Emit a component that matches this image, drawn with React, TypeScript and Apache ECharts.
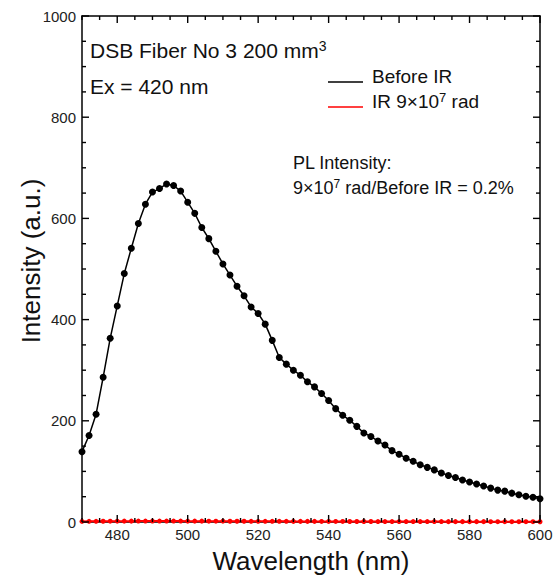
import React, { useEffect, useRef } from 'react';
import * as echarts from 'echarts';

const wavelengths = [
  470, 472, 474, 476, 478, 480, 482, 484, 486, 488, 490, 492, 494, 496, 498, 500,
  502, 504, 506, 508, 510, 512, 514, 516, 518, 520, 522, 524, 526, 528, 530, 532,
  534, 536, 538, 540, 542, 544, 546, 548, 550, 552, 554, 556, 558, 560, 562, 564,
  566, 568, 570, 572, 574, 576, 578, 580, 582, 584, 586, 588, 590, 592, 594, 596,
  598, 600,
];

const beforeIR = [
  139, 171, 213, 286, 363, 427, 491, 541, 590, 628, 652, 659, 668, 665, 654, 632,
  610, 582, 560, 535, 510, 488, 466, 447, 425, 412, 391, 359, 325, 312, 300, 290,
  277, 267, 254, 240, 224, 211, 201, 189, 176, 169, 160, 152, 141, 134, 126, 120,
  113, 108, 103, 97, 92, 88, 83, 79, 75, 71, 67, 63, 61, 57, 54, 51,
  49, 46,
];

const irDose = [
  1.2, 1.3, 1.4, 1.5, 1.6, 1.6, 1.7, 1.7, 1.8, 1.8, 1.8, 1.8, 1.8, 1.8, 1.8, 1.7,
  1.7, 1.7, 1.6, 1.6, 1.6, 1.5, 1.5, 1.5, 1.4, 1.4, 1.4, 1.3, 1.3, 1.3, 1.2, 1.2,
  1.2, 1.2, 1.1, 1.1, 1.1, 1.1, 1.0, 1.0, 1.0, 1.0, 0.9, 0.9, 0.9, 0.9, 0.9, 0.8,
  0.8, 0.8, 0.8, 0.8, 0.7, 0.7, 0.7, 0.7, 0.7, 0.7, 0.6, 0.6, 0.6, 0.6, 0.6, 0.6,
  0.6, 0.5,
];

const xMajorTicks = [480, 500, 520, 540, 560, 580, 600];
const xAllTicks = [
  470, 475, 480, 485, 490, 495, 500, 505, 510, 515, 520, 525, 530, 535, 540, 545,
  550, 555, 560, 565, 570, 575, 580, 585, 590, 595, 600,
];
const yMajorTicks = [0, 200, 400, 600, 800, 1000];
const yAllTicks = [
  0, 50, 100, 150, 200, 250, 300, 350, 400, 450, 500, 550, 600, 650, 700, 750,
  800, 850, 900, 950, 1000,
];

const FONT = 'Liberation Sans, Arial, Helvetica, sans-serif';
const X_MIN = 470;
const X_MAX = 600;
const Y_MIN = 0;
const Y_MAX = 1000;
const TICK_W = 1.4;

export default function App() {
  const ref = useRef<HTMLDivElement>(null);

  useEffect(() => {
    document.body.style.margin = '0';
    const chart = echarts.init(ref.current!, null, { renderer: 'svg' });

    const lineStyle = () => ({ color: '#000', width: 1.5 });

    const xFrame = (position: string, labels: boolean) => ({
      type: 'value',
      position,
      min: X_MIN,
      max: X_MAX,
      interval: 5,
      axisLine: { show: true, onZero: false, lineStyle: lineStyle() },
      axisTick: { show: false },
      axisLabel: labels
        ? { show: true, customValues: xMajorTicks, fontSize: 15, color: '#222', margin: 5, fontFamily: FONT }
        : { show: false },
      splitLine: { show: false },
    });

    const yFrame = (position: string, labels: boolean) => ({
      type: 'value',
      position,
      min: Y_MIN,
      max: Y_MAX,
      interval: 200,
      axisLine: { show: true, onZero: false, lineStyle: lineStyle() },
      axisTick: { show: false },
      axisLabel: labels
        ? { show: true, fontSize: 15, color: '#222', margin: 6, fontFamily: FONT, formatter: (v: number) => String(v) }
        : { show: false },
      splitLine: { show: false },
    });

    const xAxes: any[] = [
      {
        ...xFrame('bottom', true),
        name: 'Wavelength (nm)',
        nameLocation: 'middle',
        nameGap: 26,
        nameMoveOverlap: false,
        nameTextStyle: { fontSize: 26, color: '#111', fontFamily: FONT },
      },
      xFrame('top', false),
    ];

    const yAxes: any[] = [
      {
        ...yFrame('left', true),
        name: 'Intensity (a.u.)',
        nameLocation: 'middle',
        nameGap: 38,
        nameMoveOverlap: false,
        nameTextStyle: { fontSize: 26, color: '#111', fontFamily: FONT, padding: [0, 0, 0, 16] },
      },
      yFrame('right', false),
    ];

    const supText = (x: number, y: number, parts: string, size: number, supSize: number) => ({
      type: 'text',
      x,
      y,
      style: {
        text: parts,
        fill: '#111',
        font: `${size}px ${FONT}`,
        verticalAlign: 'middle',
        rich: {
          n: { fontSize: size, fontFamily: FONT, fill: '#111', lineHeight: size + 2 },
          s: { fontSize: supSize, fontFamily: FONT, fill: '#111', lineHeight: supSize, verticalAlign: 'top' },
        },
      },
    });

    // inward ticks on all four sides, positioned through the axes' scales (drawn as thin filled rects)
    const xTickSeries = {
      type: 'custom',
      name: 'xticks',
      xAxisIndex: 0,
      yAxisIndex: 0,
      silent: true,
      clip: false,
      z: 6,
      data: xAllTicks.map((v) => [v, Y_MIN, xMajorTicks.indexOf(v) >= 0 ? 1 : 0]),
      encode: { x: 0, y: 1 },
      renderItem: (_params: any, api: any) => {
        const v = api.value(0);
        const len = api.value(2) === 1 ? 7 : 4;
        const b = api.coord([v, Y_MIN]);
        const t = api.coord([v, Y_MAX]);
        return {
          type: 'group',
          children: [
            { type: 'rect', shape: { x: b[0] - TICK_W / 2, y: b[1] - len, width: TICK_W, height: len }, style: { fill: '#000' } },
            { type: 'rect', shape: { x: t[0] - TICK_W / 2, y: t[1], width: TICK_W, height: len }, style: { fill: '#000' } },
          ],
        };
      },
    };

    const yTickSeries = {
      type: 'custom',
      name: 'yticks',
      xAxisIndex: 0,
      yAxisIndex: 0,
      silent: true,
      clip: false,
      z: 6,
      data: yAllTicks.map((v) => [X_MIN, v, yMajorTicks.indexOf(v) >= 0 ? 1 : 0]),
      encode: { x: 0, y: 1 },
      renderItem: (_params: any, api: any) => {
        const v = api.value(1);
        const len = api.value(2) === 1 ? 7 : 4;
        const l = api.coord([X_MIN, v]);
        const r = api.coord([X_MAX, v]);
        return {
          type: 'group',
          children: [
            { type: 'rect', shape: { x: l[0], y: l[1] - TICK_W / 2, width: len, height: TICK_W }, style: { fill: '#000' } },
            { type: 'rect', shape: { x: r[0] - len, y: r[1] - TICK_W / 2, width: len, height: TICK_W }, style: { fill: '#000' } },
          ],
        };
      },
    };

    chart.setOption({
      animation: false,
      backgroundColor: '#fff',
      grid: { left: 82, right: 13, top: 16, bottom: 53, containLabel: false, outerBoundsMode: 'none' },
      xAxis: xAxes,
      yAxis: yAxes,
      series: [
        {
          name: 'Before IR',
          type: 'line',
          xAxisIndex: 0,
          yAxisIndex: 0,
          data: wavelengths.map((w, i) => [w, beforeIR[i]]),
          symbol: 'circle',
          symbolSize: 7,
          itemStyle: { color: '#000' },
          lineStyle: { color: '#000', width: 1.5 },
          z: 3,
        },
        {
          name: 'IR 9×10^7 rad',
          type: 'line',
          xAxisIndex: 0,
          yAxisIndex: 0,
          data: wavelengths.map((w, i) => [w, irDose[i]]),
          symbol: 'circle',
          symbolSize: 5,
          itemStyle: { color: '#ff0000' },
          lineStyle: { color: '#ff0000', width: 2 },
          z: 4,
        },
        xTickSeries,
        yTickSeries,
      ],
      graphic: [
        supText(90, 50, '{n|DSB Fiber No 3 200 mm}{s|3}', 21, 14),
        {
          type: 'text',
          x: 90,
          y: 86,
          style: { text: 'Ex = 420 nm', fill: '#111', font: `21px ${FONT}`, verticalAlign: 'middle' },
        },
        {
          type: 'line',
          shape: { x1: 328, y1: 82, x2: 363, y2: 82 },
          style: { stroke: '#000', lineWidth: 1.5 },
        },
        {
          type: 'text',
          x: 372,
          y: 76,
          style: { text: 'Before IR', fill: '#111', font: `19px ${FONT}`, verticalAlign: 'middle' },
        },
        {
          type: 'line',
          shape: { x1: 328, y1: 107, x2: 363, y2: 107 },
          style: { stroke: '#ff0000', lineWidth: 1.5 },
        },
        supText(372, 101, '{n|IR 9×10}{s|7}{n| rad}', 19, 13),
        {
          type: 'text',
          x: 293,
          y: 163,
          style: { text: 'PL Intensity:', fill: '#111', font: `18px ${FONT}`, verticalAlign: 'middle' },
        },
        supText(293, 188, '{n|9×10}{s|7}{n| rad/Before IR = 0.2%}', 18, 12),
      ],
    });

    return () => chart.dispose();
  }, []);

  return <div ref={ref} style={{ width: 553, height: 575 }} />;
}
